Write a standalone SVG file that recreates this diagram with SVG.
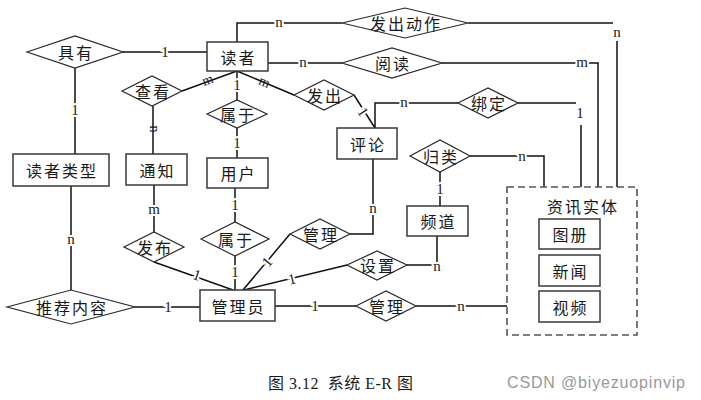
<svg xmlns="http://www.w3.org/2000/svg" width="701" height="400" viewBox="0 0 701 400">
<style>
.box{fill:#fff;stroke:#3a3a3a;stroke-width:1.5}
.dash{fill:none;stroke:#555;stroke-width:1.6;stroke-dasharray:7 4}
.dia{fill:#fff;stroke:#2a2a2a;stroke-width:1.2}
.ln{fill:none;stroke:#111;stroke-width:1.5}
.t{font-family:'Noto Sans CJK SC',sans-serif;font-size:16px;fill:#1a1a1a;text-anchor:middle;dominant-baseline:central;letter-spacing:2px}
.c{font-family:'Liberation Serif',serif;font-size:15px;fill:#1a1a1a;text-anchor:middle;dominant-baseline:central;stroke:#fff;stroke-width:4;paint-order:stroke}
.r{font-family:'Liberation Serif',serif;font-size:14px;fill:#1a1a1a;text-anchor:middle}
</style>
<rect width="701" height="400" fill="#fff"/>
<g id="connectors">
<path class="ln" d="M123,52 H207"/>
<path class="ln" d="M75,68 V154"/>
<path class="ln" d="M71,186 V290"/>
<path class="ln" d="M135,307 H200"/>
<path class="ln" d="M237,42 V23 H342"/>
<path class="ln" d="M468,23 H613 M617,41 V187"/>
<path class="ln" d="M268,63 H342"/>
<path class="ln" d="M442,63 H598 V187"/>
<path class="ln" d="M237,71 L182,91"/>
<path class="ln" d="M153,106 V154"/>
<path class="ln" d="M237,71 V100"/>
<path class="ln" d="M237,128 V158"/>
<path class="ln" d="M237,71 L294,95"/>
<path class="ln" d="M354,95 L375,128"/>
<path class="ln" d="M375,128 V103 H458"/>
<path class="ln" d="M518,103 H576 M581,125 V187"/>
<path class="ln" d="M154,185 V232"/>
<path class="ln" d="M235,188 V222"/>
<path class="ln" d="M235,256 V290"/>
<path class="ln" d="M154,262 L233,290"/>
<path class="ln" d="M243,290 L290,234"/>
<path class="ln" d="M350,234 H373 V159"/>
<path class="ln" d="M244,290 L347,265"/>
<path class="ln" d="M407,265 H437 V236"/>
<path class="ln" d="M440,172 V206"/>
<path class="ln" d="M470,156 H544 V187"/>
<path class="ln" d="M275,306 H356"/>
<path class="ln" d="M416,306 H507"/>
</g>
<g id="nodes">
<g id="n-duzhe"><rect class="box" x="207" y="42" width="61" height="29"/><text class="t" x="238.5" y="56.5">读者</text></g>
<g id="n-duzheleixing"><rect class="box" x="13" y="154" width="96" height="32"/><text class="t" x="62" y="170">读者类型</text></g>
<g id="n-tongzhi"><rect class="box" x="126" y="154" width="61" height="31"/><text class="t" x="157.5" y="169.5">通知</text></g>
<g id="n-yonghu"><rect class="box" x="207" y="158" width="61" height="30"/><text class="t" x="238.5" y="173">用户</text></g>
<g id="n-pinglun"><rect class="box" x="337" y="128" width="60" height="31"/><text class="t" x="368" y="143.5">评论</text></g>
<g id="n-pindao"><rect class="box" x="407" y="206" width="61" height="30"/><text class="t" x="438.5" y="221">频道</text></g>
<g id="n-guanliyuan"><rect class="box" x="200" y="290" width="75" height="31"/><text class="t" x="238.5" y="305.5">管理员</text></g>
<g id="n-zixun"><rect class="dash" x="507" y="187" width="130" height="148"/><text class="t" x="583" y="206">资讯实体</text>
<g id="n-tuce"><rect class="box" x="539" y="219" width="61" height="30"/><text class="t" x="570.5" y="234">图册</text></g>
<g id="n-xinwen"><rect class="box" x="539" y="255" width="61" height="31"/><text class="t" x="570.5" y="270.5">新闻</text></g>
<g id="n-shipin"><rect class="box" x="539" y="291" width="61" height="31"/><text class="t" x="570.5" y="306.5">视频</text></g>
</g>
<g id="r-juyou"><polygon class="dia" points="27,52 75,36 123,52 75,68"/><text class="t" x="76" y="52">具有</text></g>
<g id="r-fachudongzuo"><polygon class="dia" points="342,23 405,8 468,23 405,38"/><text class="t" x="406" y="23">发出动作</text></g>
<g id="r-yuedu"><polygon class="dia" points="342,63 392,48 442,63 392,78"/><text class="t" x="393" y="63">阅读</text></g>
<g id="r-chakan"><polygon class="dia" points="122,91 152,76 182,91 152,106"/><text class="t" x="153" y="91">查看</text></g>
<g id="r-shuyu1"><polygon class="dia" points="207,114 237,100 267,114 237,128"/><text class="t" x="238" y="114">属于</text></g>
<g id="r-fachu"><polygon class="dia" points="294,95 324,80 354,95 324,110"/><text class="t" x="325" y="95">发出</text></g>
<g id="r-bangding"><polygon class="dia" points="458,103 488,88 518,103 488,118"/><text class="t" x="489" y="103">绑定</text></g>
<g id="r-guilei"><polygon class="dia" points="410,156 440,140 470,156 440,172"/><text class="t" x="441" y="156">归类</text></g>
<g id="r-fabu"><polygon class="dia" points="124,247 154,232 184,247 154,262"/><text class="t" x="155" y="247">发布</text></g>
<g id="r-shuyu2"><polygon class="dia" points="201,239 235,222 269,239 235,256"/><text class="t" x="236" y="239">属于</text></g>
<g id="r-guanli1"><polygon class="dia" points="290,234 320,219 350,234 320,249"/><text class="t" x="321" y="234">管理</text></g>
<g id="r-shezhi"><polygon class="dia" points="347,265 377,251 407,265 377,280"/><text class="t" x="378" y="265">设置</text></g>
<g id="r-guanli2"><polygon class="dia" points="356,306 386,291 416,306 386,321"/><text class="t" x="387" y="306">管理</text></g>
<g id="r-tuijian"><polygon class="dia" points="7,307 71,290 135,307 71,324"/><text class="t" x="72" y="307">推荐内容</text></g>
</g>
<g id="labels">
<text class="c" x="165" y="52">1</text>
<text class="c" x="75" y="110">1</text>
<text class="c" x="71" y="239">n</text>
<text class="c" x="168" y="307">1</text>
<text class="c" x="279" y="22">n</text>
<text class="c" x="617" y="32">n</text>
<text class="c" x="303" y="62">n</text>
<text class="c" x="582" y="62">m</text>
<text class="r" transform="translate(208,81) rotate(-20)" y="3.3">m</text>
<text class="r" transform="translate(153,129) rotate(90)" y="3.3">n</text>
<text class="c" x="237" y="85">1</text>
<text class="c" x="237" y="143">1</text>
<text class="r" transform="translate(264,83) rotate(22)" y="3.3">m</text>
<text class="c" transform="translate(363,112) rotate(57)">1</text>
<text class="c" x="404" y="102">n</text>
<text class="c" x="580" y="113">1</text>
<text class="c" x="154" y="209">m</text>
<text class="c" x="235" y="205">1</text>
<text class="c" x="235" y="272">1</text>
<text class="c" transform="translate(197,275) rotate(19)">1</text>
<text class="c" transform="translate(267,262) rotate(-50)">1</text>
<text class="c" x="373" y="208">n</text>
<text class="c" transform="translate(292,279) rotate(-13.5)">1</text>
<text class="c" x="437" y="266">n</text>
<text class="c" x="440" y="189">1</text>
<text class="c" x="522" y="156">n</text>
<text class="c" x="315" y="306">1</text>
<text class="c" x="461" y="306">n</text>
</g>
<text x="268" y="389" font-family="'Liberation Serif','Noto Sans CJK SC',serif" font-size="16" fill="#1a1a1a" textLength="145" xml:space="preserve">图 3.12  系统 E-R 图</text>
<text x="507" y="388" font-family="'Liberation Sans',Arial,sans-serif" font-size="16" fill="#9a9a9a" textLength="178">CSDN @biyezuopinvip</text>
</svg>
